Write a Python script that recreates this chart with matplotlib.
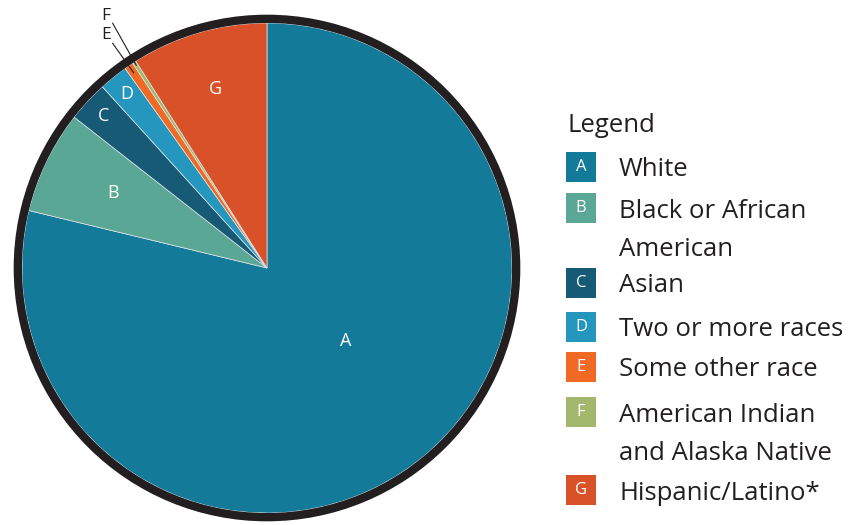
import numpy as np
import matplotlib.pyplot as plt
from matplotlib.patches import Circle, Rectangle

# Population share by race / ethnicity (percent)
letters = ["A", "B", "C", "D", "E", "F", "G"]
groups = ["White", "Black or African\nAmerican", "Asian", "Two or more races",
          "Some other race", "American Indian\nand Alaska Native", "Hispanic/Latino*"]
shares = [78.8, 6.8, 2.7, 1.9, 0.6, 0.24, 9.0]
colors = ["#137a9a", "#5aa795", "#165a75", "#2596bd", "#f06a26", "#a3b86c", "#d95128"]

INK = "#231f20"
plt.rcParams["font.family"] = ["Open Sans", "DejaVu Sans"]

W, H = 856, 525
fig = plt.figure(figsize=(W / 100, H / 100), dpi=100)

# pie axes placed in pixel units: center and radius of the disk
cx, cy, r_px = 267, 268, 245
half = 275
ax = fig.add_axes([(cx - half) / W, (H - cy - half) / H, 2 * half / W, 2 * half / H])
lim = half / r_px
ax.axis("off")

wedges, _ = ax.pie(shares, colors=colors, startangle=90, counterclock=False,
                   radius=1.0, wedgeprops=dict(edgecolor="#dfe6e8", linewidth=0.5))
ax.set_xlim(-lim, lim)
ax.set_ylim(-lim, lim)
ax.set_aspect("equal")

# thick dark rim
ax.add_patch(Circle((0, 0), 1.017, fill=False, edgecolor=INK, linewidth=6.0, zorder=5))

# letters inside the slices
label_r = [0.44, 0.70, 0.91, 0.91, None, None, 0.76]
label_shift = [9, 0, 0, 0, 0, 0, 0]
for w, let, r, sh in zip(wedges, letters, label_r, label_shift):
    if r is None:
        # thin slices get an outside label with a leader line
        continue
    mid = np.deg2rad((w.theta1 + w.theta2) / 2 + sh)
    ax.text(r * np.cos(mid), r * np.sin(mid), let, color="white", fontsize=13,
            ha="center", va="center", zorder=6)

outside = {"E": (0.951, 0.917, 0.965), "F": (1.029, 0.999, 0.985)}
for w, let in zip(wedges, letters):
    if let not in outside:
        continue
    ty, ly, er = outside[let]
    mid = np.deg2rad((w.theta1 + w.theta2) / 2)
    ax.text(-0.657, ty, let, color=INK, fontsize=12.5, ha="center", va="center", zorder=6)
    ax.plot([-0.63, er * np.cos(mid)], [ly, er * np.sin(mid)], color=INK,
            linewidth=0.8, zorder=6)


# legend column, drawn in figure pixels
def fx(px):
    return px / W


def fy(py):
    return (H - py) / H


fig.text(fx(567), fy(123), "Legend", color=INK, fontsize=18.5, ha="left",
         va="center_baseline")

box_y = [167, 208, 283, 327, 367, 412, 490]
line_gap = 39
for let, name, col, yy in zip(letters, groups, colors, box_y):
    fig.patches.append(Rectangle((fx(566), fy(yy + 15)), 30 / W, 30 / H,
                                 facecolor=col, edgecolor="none",
                                 transform=fig.transFigure, figure=fig))
    fig.text(fx(581), fy(yy), let, color="white", fontsize=12, ha="center", va="center")
    for k, line in enumerate(name.split("\n")):
        fig.text(fx(619), fy(yy + k * line_gap), line, color=INK, fontsize=18.5,
                 ha="left", va="center_baseline")

fig.savefig("out.png", dpi=100)
